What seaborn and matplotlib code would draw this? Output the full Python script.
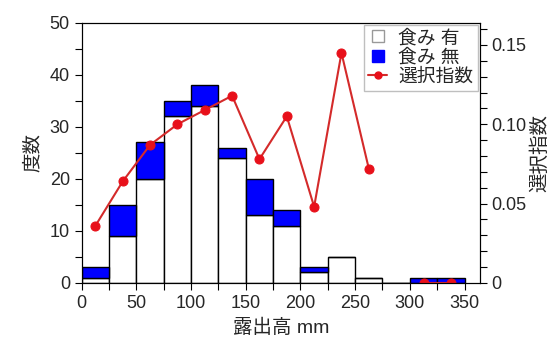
import numpy as np
import pandas as pd
import seaborn as sns
import matplotlib.pyplot as plt
from matplotlib.lines import Line2D
from matplotlib.ticker import MultipleLocator, FuncFormatter

# 露出高 bins (mm)
edges = list(range(0, 375, 25))
centers = [e + 12.5 for e in edges[:-1]]
eaten = [1, 9, 20, 32, 34, 24, 13, 11, 2, 5, 1, 0, 0, 0]       # 食み 有
not_eaten = [2, 6, 7, 3, 4, 2, 7, 3, 1, 0, 0, 0, 1, 1]         # 食み 無
sel_index = [0.036, 0.064, 0.087, 0.100, 0.109, 0.118, 0.078,
             0.105, 0.048, 0.145, 0.072, np.nan, 0.0, 0.0]      # 選択指数
labels = ["食み 有", "食み 無", "選択指数"]

sns.set_style("ticks")
plt.rcParams['font.family'] = ['Liberation Sans', 'Noto Sans CJK JP']

df = pd.DataFrame({
    "x": centers * 2,
    "n": eaten + not_eaten,
    "kind": [labels[0]] * len(centers) + [labels[1]] * len(centers),
})
seg = np.cumsum(np.isnan(sel_index))
ldf = pd.DataFrame({"x": centers, "idx": sel_index, "seg": seg}).dropna()

red_line = "#d42a2a"
red_dot = "#e8101a"
blue = "#0000ff"

fig = plt.figure(figsize=(5.56, 3.40), dpi=100)
ax = fig.add_axes([0.147, 0.168, 0.716, 0.765])
sns.histplot(data=df, x="x", weights="n", hue="kind", hue_order=[labels[1], labels[0]],
             multiple="stack", bins=edges, palette={labels[0]: "white", labels[1]: blue},
             edgecolor="black", linewidth=1, alpha=1, legend=False, ax=ax)
ax.set_xlim(0, 364)
ax.set_ylim(0, 50)
ax.xaxis.set_major_locator(MultipleLocator(50))
ax.xaxis.set_minor_locator(MultipleLocator(25))
ax.yaxis.set_major_locator(MultipleLocator(10))
ax.yaxis.set_minor_locator(MultipleLocator(5))
ax.set_xlabel("露出高 mm", fontsize=14, labelpad=5)
ax.set_ylabel("度数", fontsize=14, labelpad=6)

ax2 = ax.twinx()
sns.lineplot(data=ldf, x="x", y="idx", units="seg", estimator=None, color=red_line,
             linewidth=1.5, marker="o", markersize=6.5, markerfacecolor=red_dot,
             markeredgecolor=red_dot, ax=ax2)
ax2.set_ylim(0, 0.164)
ax2.yaxis.set_major_locator(MultipleLocator(0.05))
ax2.yaxis.set_minor_locator(MultipleLocator(0.01))
ax2.yaxis.set_major_formatter(FuncFormatter(lambda v, p: "0" if v == 0 else f"{v:.2f}"))
ax2.set_ylabel("選択指数", fontsize=14, labelpad=3)

for a in (ax, ax2):
    a.tick_params(which="both", length=5, width=0.8, color="black", labelsize=13)
    for s in a.spines.values():
        s.set_color("black")
        s.set_linewidth(0.8)

handles = [
    Line2D([], [], marker="s", ls="none", mfc="white", mec="0.6", ms=8),
    Line2D([], [], marker="s", ls="none", mfc=blue, mec=blue, ms=8),
    Line2D([], [], color=red_line, marker="o", mfc=red_dot, mec=red_dot, ms=5),
]
ax2.legend(handles, labels, loc="upper right", frameon=True, fancybox=False,
           edgecolor="0.75", framealpha=1, borderaxespad=0.1, handlelength=1.0,
           handletextpad=0.6, labelspacing=0.1, borderpad=0.25, fontsize=13.5)

fig.savefig("out.png", dpi=100)
